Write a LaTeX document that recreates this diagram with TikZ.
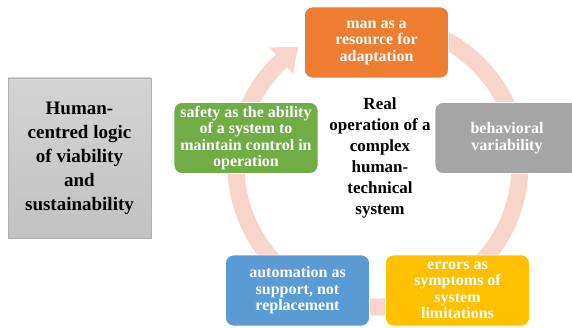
\documentclass[tikz,border=0pt]{standalone}
\usepackage{fontspec}
\setmainfont{Liberation Serif}
\usetikzlibrary{arrows.meta,bending}

\definecolor{ringpink}{HTML}{F8D5CA}
\definecolor{boxorange}{HTML}{ED7D31}
\definecolor{boxgray}{HTML}{A5A5A5}
\definecolor{boxyellow}{HTML}{FFC000}
\definecolor{boxblue}{HTML}{5B9BD5}
\definecolor{boxgreen}{HTML}{70AD47}

\begin{document}
\begin{tikzpicture}[
    x=1pt,y=1pt,
    >=Stealth,
    cycle box/.style={rectangle,rounded corners=8pt,minimum width=144pt,minimum height=71pt,
        inner sep=2pt,align=center,text=white,draw=white,line width=0.8pt,
        font=\fontsize{16}{16.5}\selectfont\bfseries},
    cycle ring/.style={ringpink,line width=17pt},
    core text/.style={align=center,font=\fontsize{17}{21}\selectfont\bfseries},
    side box/.style={rectangle,draw=black!30,top color=black!17,bottom color=black!24,
        minimum width=143pt,minimum height=160pt,align=center,
        font=\fontsize{19}{24}\selectfont\bfseries}
]

% Rahmen
\useasboundingbox (0,0) rectangle (572,327);
\clip (0,0) rectangle (572,327);

% Mittelpunkt des Kreises
\coordinate (ring) at (378,162);

% Kreispfeil (im Uhrzeigersinn)
\draw[cycle ring,-{Triangle[width=34pt,length=22pt,bend]}]
    ([shift={(80:142)}]ring) arc[start angle=80,end angle=-236,radius=142];

% Kernaussage
\node[core text] (core) at (380,169) {Real\\operation of a\\complex\\human-\\technical\\system};

% Bausteine des Zyklus
\node[cycle box,fill=boxorange] (resource) at (376.5,284.5) {man as a\\resource for\\adaptation};
\node[cycle box,fill=boxgray] (variability) at (507,189) {behavioral\\variability};
\node[cycle box,fill=boxyellow] (errors) at (457.5,36.5) {errors as\\symptoms of\\system\\limitations};
\node[cycle box,fill=boxblue] (automation) at (297.5,36.5) {automation as\\support, not\\replacement};
\node[cycle box,fill=boxgreen] (safety) at (246,189) {safety as the ability\\of a system to\\maintain control in\\operation};

% Linker Block
\node[side box] (logic) at (79.5,169) {Human-\\centred logic\\of viability\\and\\sustainability};

\end{tikzpicture}
\end{document}
